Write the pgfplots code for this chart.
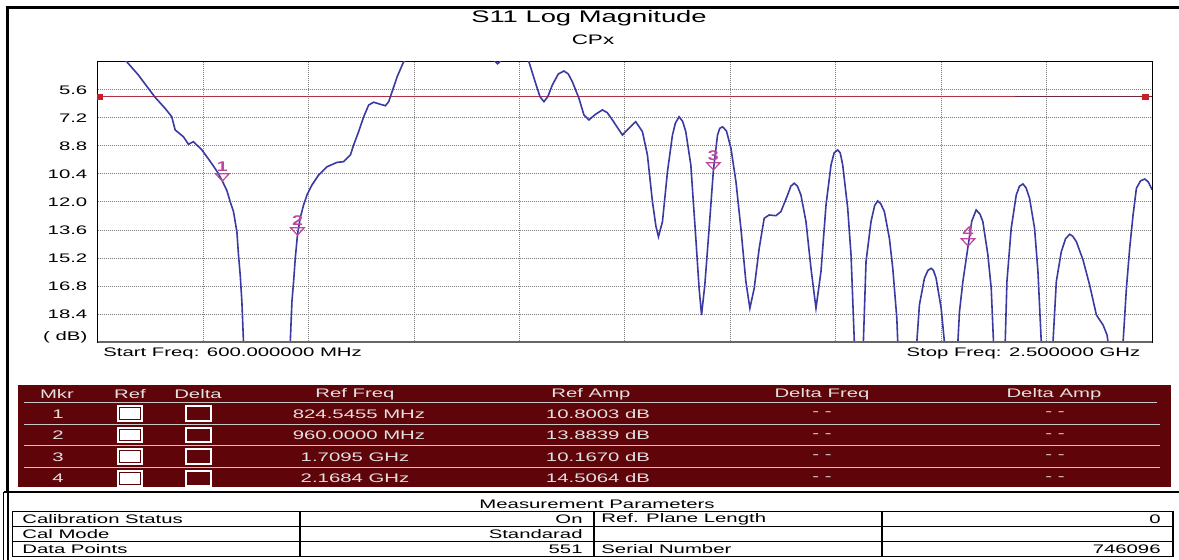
\documentclass[border=0pt]{standalone}
\usepackage{fontspec}
\setmainfont{Liberation Sans}
\usepackage{pgfplots}
\pgfplotsset{compat=1.18}
\newfontfamily\uifont[FakeStretch=1.64]{Liberation Sans}
\newfontfamily\titlefont[FakeStretch=1.63]{Liberation Sans}
\newfontfamily\mkfont[FakeStretch=1.4]{Liberation Sans Bold}
\newcommand{\sm}{\uifont\fontsize{6.2pt}{7pt}\selectfont}
\newcommand{\tf}{\titlefont\fontsize{8.4pt}{10pt}\selectfont}
\newcommand{\tfs}{\titlefont\fontsize{6.9pt}{8pt}\selectfont}
\newcommand{\mkf}{\mkfont\fontsize{7pt}{8pt}\selectfont}
\definecolor{tracecol}{RGB}{58,58,162}
\definecolor{refred}{RGB}{176,48,68}
\definecolor{refdark}{RGB}{110,40,60}
\definecolor{sqred}{RGB}{200,30,40}
\definecolor{mkcol}{RGB}{190,70,160}
\definecolor{mkrbg}{RGB}{95,5,10}
\definecolor{tabtxt}{RGB}{225,225,225}
\definecolor{tabln}{RGB}{200,200,200}
\pgfdeclareplotmark{mkr}{%
  \pgfpathmoveto{\pgfqpoint{0pt}{0pt}}%
  \pgfpathlineto{\pgfqpoint{-3.4pt}{3.6pt}}%
  \pgfpathlineto{\pgfqpoint{3.4pt}{3.6pt}}%
  \pgfpathclose\pgfusepathqstroke}
\begin{document}
\begin{tikzpicture}
\useasboundingbox (0,0) rectangle (589.5pt,-280pt);
\fill[white] (0,0) rectangle (589.5pt,-280pt);
\begin{scope}[x=0.5pt,y=-0.5pt]
  % outer frame
  \draw[line width=1.5pt] (5.5,8) -- (1179,8);
  \draw[line width=1.5pt] (7,8) -- (7,492);
  \draw[line width=1pt] (4,491.7) -- (1179,491.7);
  \draw[line width=0.6pt] (3.5,492) -- (3.5,560);
  \draw[line width=0.6pt] (8,492) -- (8,560);
  % titles
  \node[font=\tf, inner sep=0pt] at (589,18) {S11 Log Magnitude};
  \node[font=\tfs, inner sep=0pt] at (593,40) {CPx};
  % start / stop
  \node[font=\sm, inner sep=0pt, anchor=west] at (103,353) {Start Freq: 600.000000 MHz};
  \node[font=\sm, inner sep=0pt, anchor=east] at (1140.6,353) {Stop Freq: 2.500000 GHz};
  % marker table
  \fill[mkrbg] (18.3,385) rectangle (1171,487.3);
  \draw[tabln, line width=0.5pt] (24,402.7) -- (1157,402.7);
  \foreach \yy in {424.3,446,467.3} {\draw[tabln, line width=0.5pt] (24,\yy) -- (1160,\yy);}
  \begin{scope}[every node/.style={font=\sm, text=tabtxt, inner sep=0pt}]
    \node at (57,394) {Mkr};
    \node at (130,394) {Ref};
    \node at (198,394) {Delta};
    \node at (355,394) {Ref Freq};
    \node at (591,394) {Ref Amp};
    \node at (822,394) {Delta Freq};
    \node at (1054,394) {Delta Amp};
    \node at (58,414) {1};
    \node at (58,435.5) {2};
    \node at (58,457) {3};
    \node at (58,478.5) {4};
    \node at (359,414) {824.5455 MHz};
    \node at (359,435.5) {960.0000 MHz};
    \node at (355,457) {1.7095 GHz};
    \node at (355,478.5) {2.1684 GHz};
    \node at (598,414) {10.8003 dB};
    \node at (598,435.5) {13.8839 dB};
    \node at (598,457) {10.1670 dB};
    \node at (598,478.5) {14.5064 dB};
    \foreach \yy in {414,435.5,457,478.5} {
      \node at (822,\yy) {- -};
      \node at (1055,\yy) {- -};
    }
  \end{scope}
  \foreach \yy in {405,426.7,448.3,470} {
    \fill[white] (117.3,\yy) rectangle (143.3,\yy+16.7);
    \draw[mkrbg, line width=0.4pt] (119.8,\yy+2.5) rectangle (140.8,\yy+14.2);
    \draw[white, line width=1.1pt] (186,\yy+1) rectangle (210.7,\yy+15.7);
  }
  % measurement parameters table
  \node[font=\sm, inner sep=0pt] at (597,504) {Measurement Parameters};
  \draw[line width=0.6pt] (12.7,511.5) rectangle (1173,556.5);
  \draw[line width=0.6pt] (12.7,526.5) -- (1173,526.5);
  \draw[line width=0.6pt] (12.7,541.5) -- (1173,541.5);
  \foreach \xx in {300,594,882} {\draw[line width=0.6pt] (\xx,511.5) -- (\xx,556.5);}
  \begin{scope}[every node/.style={font=\sm, inner sep=0pt}]
    \node[anchor=west] at (22,519) {Calibration Status};
    \node[anchor=west] at (22,534) {Cal Mode};
    \node[anchor=west] at (22,549) {Data Points};
    \node[anchor=east] at (583,519) {On};
    \node[anchor=east] at (583,534) {Standarad};
    \node[anchor=east] at (583,549) {551};
    \node[anchor=west] at (601,519) {Ref. Plane Length};
    \node[anchor=west] at (601,549) {Serial Number};
    \node[anchor=east] at (1161,519) {0};
    \node[anchor=east] at (1161,549) {746096};
  \end{scope}
\end{scope}
\begin{axis}[
  at={(48.85pt,-171.15pt)}, anchor=south west,
  scale only axis, width=527.2pt, height=140.3pt,
  xmin=600, xmax=2500, ymin=4, ymax=20, y dir=reverse,
  xtick={790,980,1170,1360,1550,1740,1930,2120,2310},
  xticklabels={},
  ytick={5.6,7.2,8.8,10.4,12.0,13.6,15.2,16.8,18.4},
  yticklabels={5.6,7.2,8.8,10.4,12.0,13.6,15.2,16.8,18.4},
  extra y ticks={19.7}, extra y tick labels={( dB)},
  extra y tick style={grid=none},
  /pgf/number format/assume math mode=true,
  yticklabel style={font=\sm, inner sep=0pt, xshift=-5pt},
  xmajorgrids, ymajorgrids,
  grid style={line width=0.5pt, dash pattern=on 0.5pt off 0.5pt, color=black!50},
  major tick length=0pt,
  axis line style={line width=0.6pt, black},
]
\addplot[refred, line width=0.6pt] coordinates {(600,6.0) (2253,6.0)};
\addplot[refdark, line width=0.6pt] coordinates {(2253,6.0) (2500,6.0)};
\addplot[only marks, mark=square*, mark size=1.4pt, color=sqred] coordinates {(604,6.0) (2488,6.0)};
\addplot[tracecol, line width=0.8pt] table {
600 2.6
652.3 4.0
673.3 4.76
691.3 5.52
703.4 6.03
721.4 6.66
733.5 7.14
739.5 7.89
754.5 8.28
763.5 8.71
772.5 8.56
787.7 9.03
796.7 9.42
808.6 9.95
816 10.3
824.5 10.80
832.8 11.35
838.7 11.98
844.7 12.55
850.8 13.69
853.7 15.02
856.8 16.16
859.8 17.68
862.7 19.96
905 35
947 20.0
950 17.68
953 16.54
956 15.21
960 13.88
965 12.9
971 12.17
977.1 11.6
986.1 11.03
998.1 10.46
1013.2 9.99
1031.3 9.74
1043.2 9.7
1055.3 9.32
1061.2 8.75
1070.2 7.99
1079.3 7.14
1088.3 6.47
1097.3 6.31
1109.4 6.43
1118.4 6.51
1124.4 6.28
1130.5 5.71
1139.5 4.86
1151.4 4.0
1199.6 2.8
1253.7 2.3
1298.8 3.2
1313.3 3.9
1320.5 4.12
1327.7 3.9
1344 3.3
1362 3.4
1377 4.0
1389.1 5.23
1397 6.0
1404.1 6.28
1411 6.0
1419.2 5.33
1430 4.7
1440.1 4.53
1448 4.7
1455.3 5.14
1467.2 6.09
1476.2 7.04
1485.2 7.32
1497 7.0
1509.4 6.75
1518 6.9
1527.5 7.32
1545.5 8.18
1557 7.8
1569.5 7.42
1581.6 7.99
1590.6 9.32
1599.6 11.98
1606 13.4
1610.5 13.98
1617.7 13.12
1626.7 10.27
1635.7 8.18
1641 7.5
1647.6 7.14
1654 7.4
1659.7 7.99
1668.8 9.89
1677.8 14.07
1683.7 16.92
1688.1 18.44
1694 16.73
1701.8 13.5
1709.5 10.17
1716.9 8.18
1721 7.8
1726 7.71
1733 7.95
1741.1 8.94
1750.1 10.84
1759 13.5
1768 16.54
1775.2 18.06
1783 16.92
1792 14.64
1801 12.93
1810 12.74
1822.1 12.78
1831.1 12.55
1843.2 11.6
1849 11.1
1855.1 10.93
1861 11.1
1867.2 11.6
1876.3 13.12
1885.3 15.78
1894.3 18.06
1903.3 15.97
1912.4 12.17
1921.4 9.89
1927 9.2
1933.5 9.03
1938 9.2
1942.5 9.89
1951.5 12.36
1957.5 15.02
1963.4 19.96
1971.9 30
1979.7 20
1984.5 15.4
1993.5 13.12
2000 12.2
2005.6 11.94
2011 12.1
2017.6 12.55
2026.6 14.07
2032.7 15.78
2040 18.63
2041.7 20
2058.5 30
2076 20
2080.7 17.87
2089.7 16.35
2096 15.9
2101.8 15.78
2106 15.9
2110.8 16.35
2119.9 18.06
2125.8 20
2137.9 30
2150 20
2152.9 18.25
2159 16.54
2168.4 14.51
2175 13.1
2183 12.45
2190 12.7
2195 13.12
2204.1 15.02
2210.1 16.92
2214.2 20
2224.5 30
2235.3 20
2238.4 16.54
2246.1 13.5
2255.2 11.6
2261 11.1
2267.3 10.97
2273 11.2
2279.2 11.79
2288.2 13.5
2294.3 15.97
2300.3 20
2311.1 30
2321.4 20
2327.4 16.54
2336.4 14.83
2344 14.1
2351.4 13.84
2357 13.95
2363.5 14.26
2375.5 15.3
2387.4 16.73
2399.6 18.44
2411.6 19.01
2418.8 19.58
2420.6 20
2433.8 30
2447.7 20
2453.7 16.92
2459.6 14.64
2465.7 12.74
2471.7 11.22
2479 10.8
2486.7 10.69
2493 10.85
2498.8 11.22
2500 11.3
};
\addplot[mkcol, line width=0.6pt, only marks, mark=mkr,
  nodes near coords, point meta=explicit symbolic,
  every node near coord/.append style={font=\mkf, text=mkcol, anchor=south, inner sep=0pt, yshift=4.5pt}]
  table[meta=lab] {
x y lab
824.5455 10.8003 1
960.0 13.8839 2
1709.5 10.167 3
2168.4 14.5064 4
};
\draw[black!60, line width=1pt] (axis cs:600,20) -- (axis cs:2500,20);
\end{axis}
\end{tikzpicture}
\end{document}
